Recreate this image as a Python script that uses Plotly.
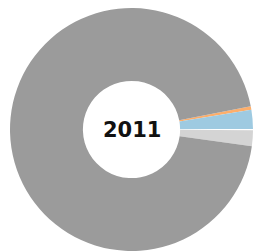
import plotly.graph_objects as go

labels = ["A", "B", "C", "D", "E"]
values = [0.45, 2.55, 0.15, 2.1, 94.75]
colors = ["#fdae6b", "#9ecae1", "#ffffff", "#d4d4d4", "#9b9b9b"]
center_label = "2011"

fig = go.Figure(go.Pie(
    labels=labels,
    values=values,
    hole=0.40,
    sort=False,
    direction="clockwise",
    rotation=79.0,
    marker=dict(colors=colors, line=dict(width=0)),
    textinfo="none",
    hoverinfo="none",
    showlegend=False,
))
fig.add_annotation(
    text="<b>" + center_label + "</b>",
    x=0.5, y=0.5, xref="paper", yref="paper",
    showarrow=False,
    font=dict(family="DejaVu Sans", size=21, color="#111111"),
)
fig.update_layout(
    width=254, height=251,
    margin=dict(l=10, r=1, t=8, b=0),
    paper_bgcolor="white",
    plot_bgcolor="white",
)
fig.write_html(
    "out.html",
    config={"displayModeBar": False},
    post_script="document.body.style.margin='0';document.body.style.overflow='hidden';",
)
